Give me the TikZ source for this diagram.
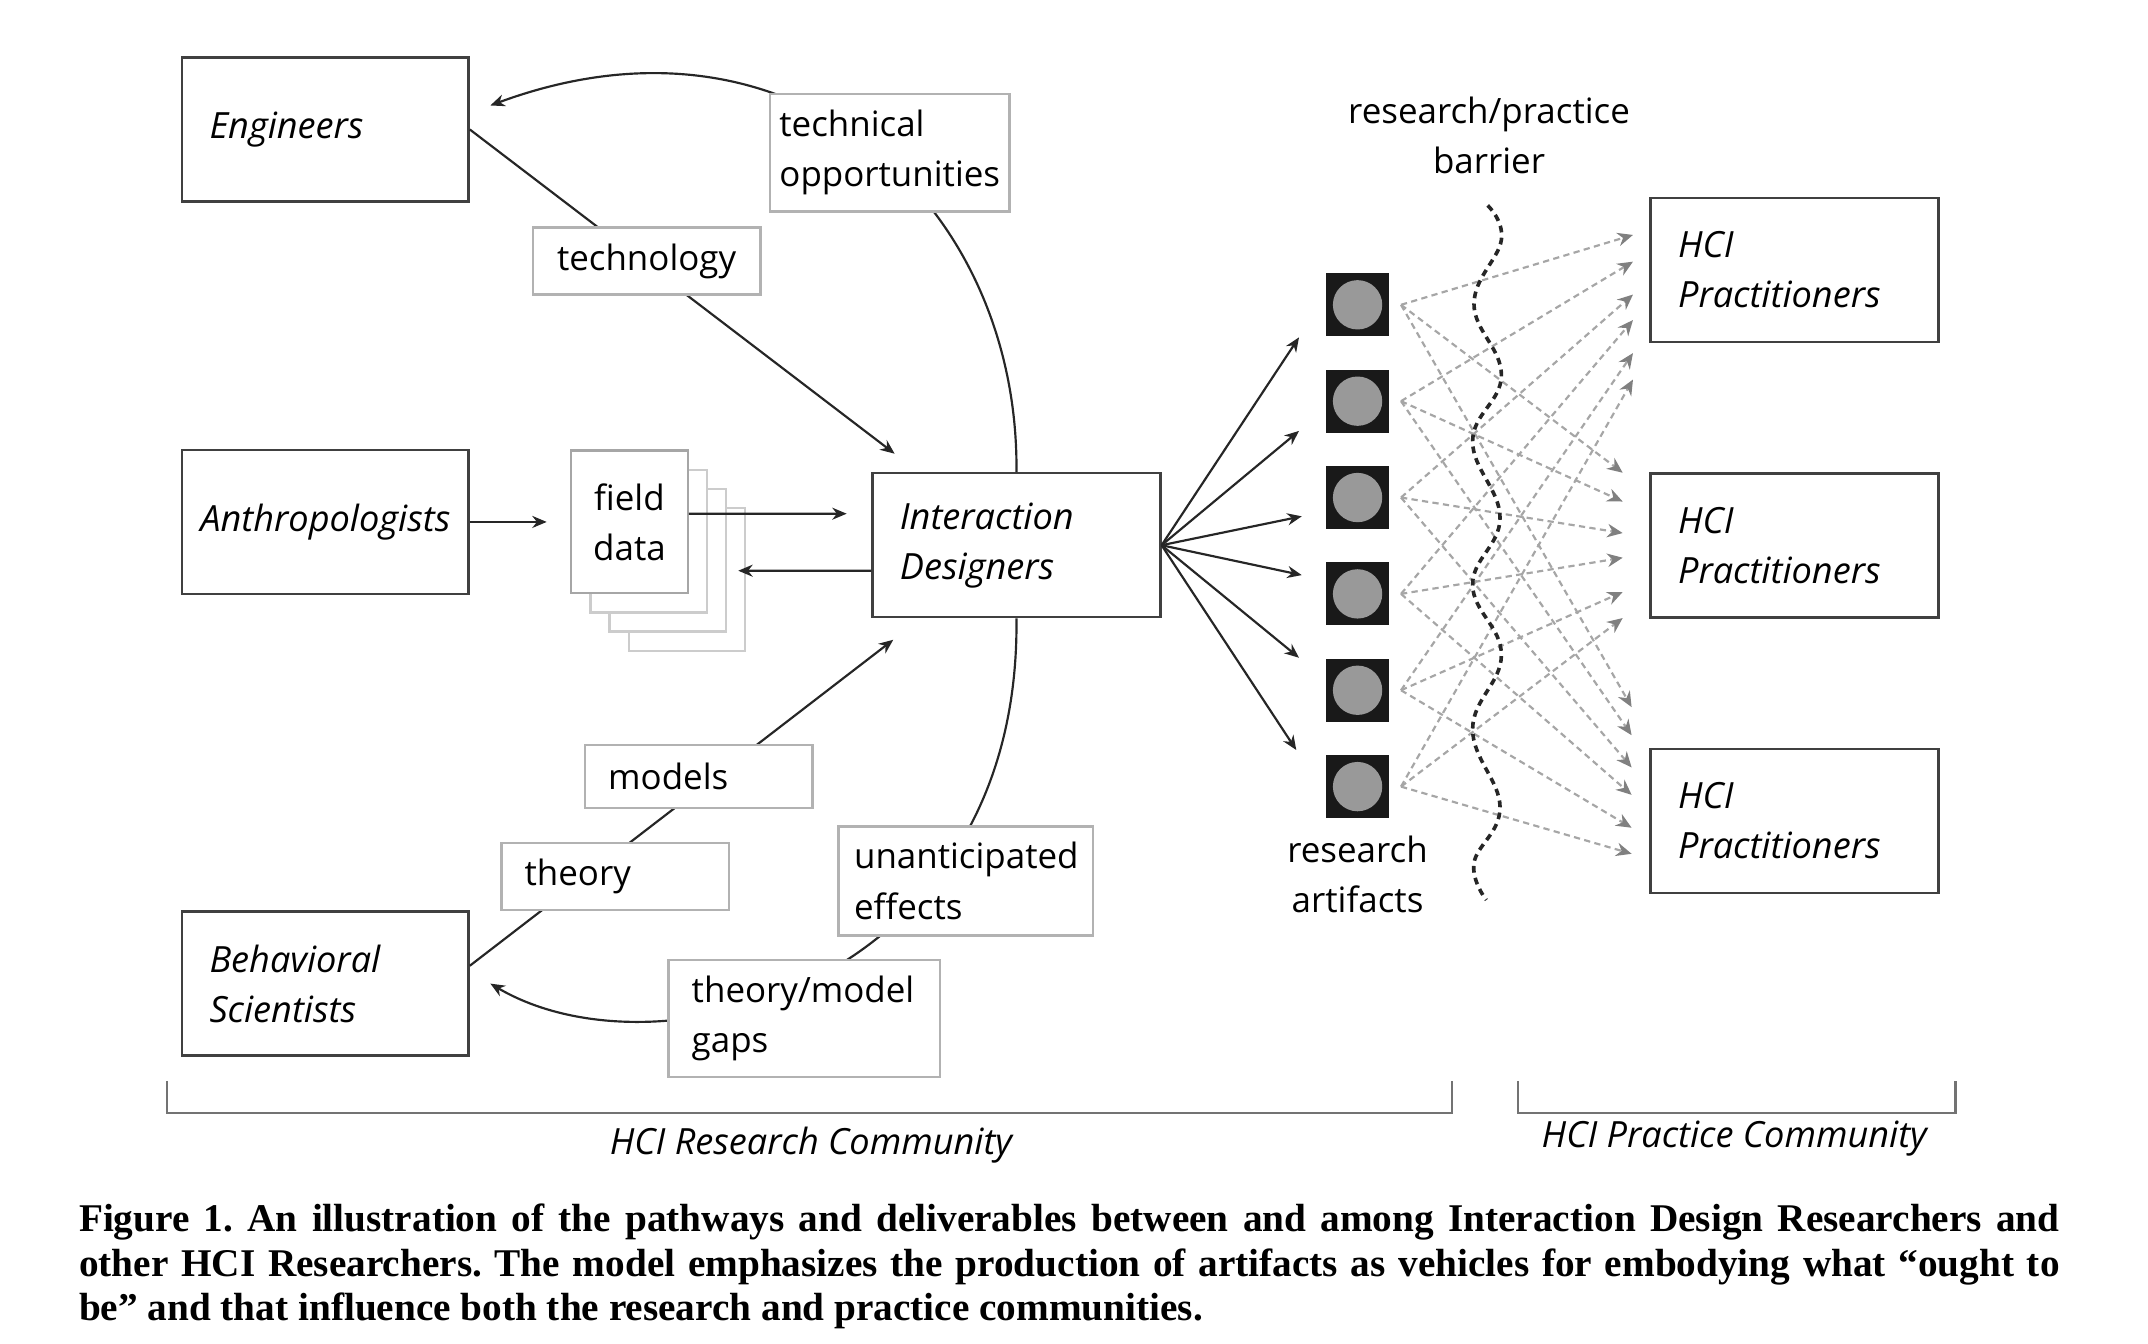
\documentclass[tikz,border=0pt]{standalone}
\usepackage{fontspec}
\usepackage{tikz}
\usetikzlibrary{arrows.meta}
\usetikzlibrary{positioning}
\newfontfamily\diafont{Open Sans}
\newfontfamily\capfont{Liberation Serif}
\newcommand{\diasize}{\fontsize{7.25}{10.4}\selectfont}
\newcommand{\actsize}{\fontsize{7.5}{10.4}\selectfont}
\tikzset{
    actor/.style={
           rectangle,
           draw=black!75, line width=0.5pt,
           inner xsep=0.2cm,
           text width=1.69cm,
           minimum height=1.05cm,
           align=left,
           font=\diafont\actsize\itshape,
           },
}
\tikzset{
    deliv/.style={
           rectangle,
           draw=black!30, fill=white, line width=0.5pt,
           inner xsep=0.17cm,
           text width=1.32cm,
           minimum height=0.46cm,
           align=left,
           font=\diafont\diasize,
           },
}
\tikzset{
    page/.style={
           rectangle,
           draw=black!20, fill=white, line width=0.5pt,
           inner xsep=0.05cm,
           text width=0.75cm,
           minimum height=1.04cm,
           align=center,
           font=\diafont\diasize,
           },
}
\tikzset{
    artifact/.style={
           rectangle,
           fill=black!90,
           inner sep=0pt,
           minimum size=0.46cm,
           path picture={\fill[black!40] (path picture bounding box.center) circle (0.18cm);},
           },
}
\tikzset{
    flow/.style={-{Stealth[length=3pt,width=2.5pt]}, draw=black!85, line width=0.45pt},
    reach/.style={-{Stealth[length=3.2pt,width=2.8pt,color=black!50]}, draw=black!35,
           line width=0.45pt, dash pattern=on 1.3pt off 0.9pt},
    barrier/.style={draw=black!85, line width=0.75pt, dash pattern=on 1.4pt off 1.1pt},
    bracket/.style={draw=black!55, line width=0.5pt},
}

\begin{document}
\begin{tikzpicture}[x=0.01cm,y=-0.01cm]
\useasboundingbox (0,0) rectangle (1568,981);
\node[actor](eng) at (237.5,94.5){Engineers};
\node[actor,align=center,text width=1.85cm,inner xsep=0.12cm](anth) at (237.5,381){Anthropologists};
\node[actor](behav) at (237.5,718){Behavioral\\Scientists};
\node[actor,text width=1.7cm](des) at (742,398){Interaction\\Designers};
\node[actor,text width=1.7cm](prac1) at (1310,197){HCI\\Practitioners};
\node[actor,text width=1.7cm,node distance=2.01cm,below of = prac1](prac2){HCI\\Practitioners};
\node[actor,text width=1.7cm,node distance=2.01cm,below of = prac2](prac3){HCI\\Practitioners};

\node[artifact](art1) at (991,222.5){};
\node[artifact,node distance=0.703cm,below of = art1](art2){};
\node[artifact,node distance=0.703cm,below of = art2](art3){};
\node[artifact,node distance=0.703cm,below of = art3](art4){};
\node[artifact,node distance=0.703cm,below of = art4](art5){};
\node[artifact,node distance=0.703cm,below of = art5](art6){};
\node[align=center,font=\diafont\diasize,node distance=0.64cm,below of = art6](artlabel){research\\artifacts};

\node[page](fd3) at (501.5,423){};
\node[page](fd2) at (487.5,409){};
\node[page](fd1) at (473.5,395){};
\node[page,draw=black!35](fdata) at (459.5,381){field\\data};

\draw[flow,shorten >=0.17cm] (anth.east) -- (fdata.west);
\draw[flow,shorten >=0.18cm] ([yshift=0.06cm]fdata.east) -- ([yshift=0.23cm]des.west);
\draw[flow,shorten >=0.08cm] ([yshift=-0.186cm]des.west) -- ([yshift=-0.076cm]fd2.east);
\draw[flow] (eng.east) -- ([xshift=0.17cm,yshift=0.134cm]des.north west);
\draw[flow] ([yshift=0.13cm]behav.east) -- ([xshift=0.16cm,yshift=-0.156cm]des.south west);
\draw[flow] (des.north) .. controls (744,150) and (580,-5) .. ([xshift=0.15cm,yshift=0.175cm]eng.east);
\draw[flow] (des.south) .. controls (745,720) and (480,790) .. ([xshift=0.15cm]behav.east);

\draw[flow] (des.east) -- ([xshift=-0.19cm]art1.south west);
\draw[flow] (des.east) -- ([xshift=-0.19cm,yshift=0.02cm]art2.south west);
\draw[flow] (des.east) -- ([xshift=-0.17cm,yshift=0.1cm]art3.south west);
\draw[flow] (des.east) -- ([xshift=-0.17cm,yshift=-0.1cm]art4.north west);
\draw[flow] (des.east) -- ([xshift=-0.19cm]art5.north west);
\draw[flow] (des.east) -- ([xshift=-0.21cm,yshift=0.03cm]art6.north west);

\draw[reach] ([xshift=0.08cm]art1.east) -- ([xshift=-0.12cm,yshift=0.255cm]prac1.west);
\draw[reach] ([xshift=0.08cm]art2.east) -- ([xshift=-0.12cm,yshift=0.06cm]prac1.west);
\draw[reach] ([xshift=0.08cm]art3.east) -- ([xshift=-0.12cm,yshift=-0.18cm]prac1.west);
\draw[reach] ([xshift=0.08cm]art4.east) -- ([xshift=-0.12cm,yshift=-0.366cm]prac1.west);
\draw[reach] ([xshift=0.08cm]art5.east) -- ([xshift=-0.12cm,yshift=-0.607cm]prac1.west);
\draw[reach] ([xshift=0.08cm]art6.east) -- ([xshift=-0.12cm,yshift=-0.8cm]prac1.west);
\draw[reach] ([xshift=0.08cm]art1.east) -- ([xshift=-0.195cm,yshift=0.53cm]prac2.west);
\draw[reach] ([xshift=0.08cm]art2.east) -- ([xshift=-0.195cm,yshift=0.32cm]prac2.west);
\draw[reach] ([xshift=0.08cm]art3.east) -- ([xshift=-0.195cm,yshift=0.09cm]prac2.west);
\draw[reach] ([xshift=0.08cm]art4.east) -- ([xshift=-0.195cm,yshift=-0.09cm]prac2.west);
\draw[reach] ([xshift=0.08cm]art5.east) -- ([xshift=-0.195cm,yshift=-0.34cm]prac2.west);
\draw[reach] ([xshift=0.08cm]art6.east) -- ([xshift=-0.195cm,yshift=-0.53cm]prac2.west);
\draw[reach] ([xshift=0.08cm]art1.east) -- ([xshift=-0.13cm,yshift=0.83cm]prac3.west);
\draw[reach] ([xshift=0.08cm]art2.east) -- ([xshift=-0.13cm,yshift=0.625cm]prac3.west);
\draw[reach] ([xshift=0.08cm]art3.east) -- ([xshift=-0.13cm,yshift=0.39cm]prac3.west);
\draw[reach] ([xshift=0.08cm]art4.east) -- ([xshift=-0.13cm,yshift=0.19cm]prac3.west);
\draw[reach] ([xshift=0.08cm]art5.east) -- ([xshift=-0.13cm,yshift=-0.05cm]prac3.west);
\draw[reach] ([xshift=0.08cm]art6.east) -- ([xshift=-0.13cm,yshift=-0.24cm]prac3.west);

\draw[barrier] plot[smooth,tension=0.7] coordinates {(1086,150) (1096,175) (1076,222) (1096,274) (1075,322) (1095,378) (1075,427) (1096,478) (1075,532) (1095,589) (1076,630) (1085,657)};
\node[align=center,font=\diafont\diasize](barlabel) at (1087,99){research/practice\\barrier};

\node[deliv,text width=1.61cm,inner xsep=0.07cm,minimum height=0.81cm](techopp) at (649.5,111.5){technical\\opportunities};
\node[deliv,align=center,minimum height=0.45cm](tech) at (472,190.5){technology};
\node[deliv](models) at (510,567){models};
\node[deliv](theory) at (449,640){theory};
\node[deliv,text width=1.63cm,inner xsep=0.115cm,minimum height=0.78cm](unant) at (705,643){unanticipated\\effects};
\node[deliv,text width=1.64cm,minimum height=0.77cm](gaps) at (587,743.5){theory/model\\gaps};

\draw[bracket] (122,789) |- (1060,812.5) -- (1060,789);
\draw[bracket] (1108,789) |- (1427.5,812.5) -- (1427.5,789);
\node[font=\diafont\actsize\itshape](rescomm) at (592,836){HCI Research Community};
\node[font=\diafont\actsize\itshape](praccomm) at (1266,831){HCI Practice Community};

\node[anchor=north west,inner sep=0pt,text width=14.45cm,align=justify,font=\capfont\bfseries\fontsize{8.15}{9.3}\selectfont\frenchspacing](caption) at (57,878){Figure 1. An illustration of the pathways and deliverables between and among Interaction Design Researchers and\linebreak other HCI Researchers. The model emphasizes the production of artifacts as vehicles for embodying what “ought to\linebreak be” and that influence both the research and practice communities.};
\end{tikzpicture}
\end{document}
